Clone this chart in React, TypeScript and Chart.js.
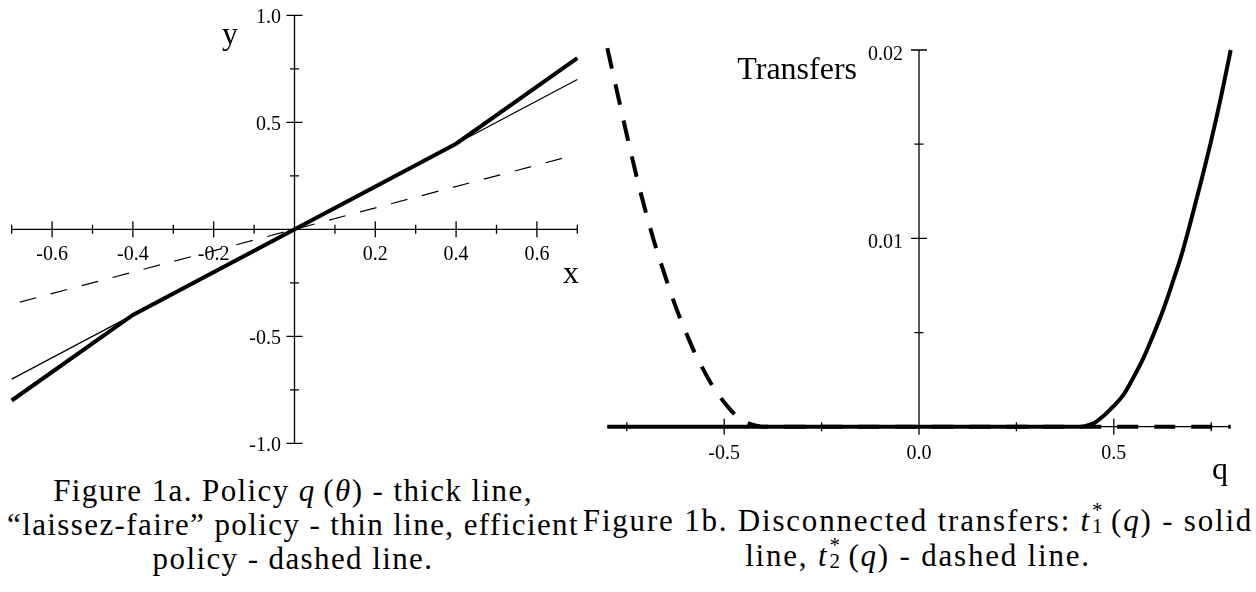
import { useEffect, useRef } from "react"
import { Chart, registerables, type Plugin } from "chart.js"

Chart.register(...registerables)

// Figure 1a - policies
const policyX = [-0.7, -0.4, 0.4, 0.7]
const policyY = [-0.8, -0.4, 0.4, 0.8]
const laissezX = [-0.7, 0.7]
const laissezY = [-0.7, 0.7]
const efficientX = [-0.68, 0.68]
const efficientY = [-0.34, 0.34]

const aMajorX = [-0.6, -0.4, -0.2, 0, 0.2, 0.4, 0.6]
const aMinorX = [-0.7, -0.5, -0.3, -0.1, 0.1, 0.3, 0.5, 0.7]
const aMajorY = [-1, -0.5, 0.5, 1]
const aMinorY = [-0.75, -0.25, 0.25, 0.75]
const aXLabels = ["-0.6", "-0.4", "-0.2", "0.2", "0.4", "0.6"]
const aYLabels = ["1.0", "0.5", "-0.5", "-1.0"]

// Figure 1b - transfers
const t1Q = [-0.8, 0.41, 0.425, 0.45, 0.475, 0.5, 0.525, 0.55, 0.575, 0.6, 0.625, 0.65, 0.675, 0.7, 0.725, 0.75, 0.775, 0.8]
const t1Val = [0, 0, 0.00003, 0.0002, 0.0006, 0.0011, 0.0017, 0.0026, 0.0036, 0.0048, 0.0061, 0.0076, 0.0092, 0.0111, 0.0131, 0.0152, 0.0175, 0.02]
const t2Q = [-0.8, -0.775, -0.75, -0.725, -0.7, -0.675, -0.65, -0.625, -0.6, -0.575, -0.55, -0.525, -0.5, -0.475, -0.45, -0.425, -0.4, 0.8]
const t2Val = [0.0201, 0.0178, 0.0155, 0.0133, 0.0113, 0.0095, 0.0079, 0.0064, 0.0051, 0.0039, 0.0029, 0.002, 0.0013, 0.0007, 0.0003, 0.0001, 0, 0]

const bMajorX = [-0.5, 0, 0.5]
const bMinorX = [-0.75, -0.25, 0.25, 0.75]
const bMajorY = [0.01, 0.02]
const bMinorY = [0.005, 0.015]
const bXLabels = ["-0.5", "0.0", "0.5"]
const bYLabels = ["0.02", "0.01"]

const FONT = "'Liberation Serif', 'Times New Roman', serif"

const pts = (xs: number[], ys: number[]) => xs.map((x, i) => ({ x, y: ys[i] }))

interface AxisSpec {
  majorX: number[]
  minorX: number[]
  majorY: number[]
  minorY: number[]
  xLabels: string[]
  yLabels: string[]
  xLabelDy: number
  yLabelDx: number
  yLabelDy: number
  names: { text: string; x: number; y: number; align: CanvasTextAlign }[]
}

// axes cross at the origin, ticks stick out on both sides
function crossAxes(spec: AxisSpec): Plugin<"scatter"> {
  return {
    id: "crossAxes",
    beforeDatasetsDraw(chart) {
      const { ctx } = chart
      const sx = chart.scales.x
      const sy = chart.scales.y
      const x0 = sx.getPixelForValue(0)
      const y0 = sy.getPixelForValue(0)
      ctx.save()
      ctx.strokeStyle = "#000"
      ctx.lineWidth = 1.3
      ctx.beginPath()
      ctx.moveTo(sx.getPixelForValue(sx.min), y0)
      ctx.lineTo(sx.getPixelForValue(sx.max), y0)
      ctx.moveTo(x0, sy.getPixelForValue(sy.min))
      ctx.lineTo(x0, sy.getPixelForValue(sy.max))
      spec.majorX.forEach((v) => {
        const p = sx.getPixelForValue(v)
        ctx.moveTo(p, y0 - 8)
        ctx.lineTo(p, y0 + 8)
      })
      spec.minorX.forEach((v) => {
        const p = sx.getPixelForValue(v)
        ctx.moveTo(p, y0 - 4.5)
        ctx.lineTo(p, y0 + 4.5)
      })
      spec.majorY.forEach((v) => {
        const p = sy.getPixelForValue(v)
        ctx.moveTo(x0 - 8, p)
        ctx.lineTo(x0 + 8, p)
      })
      spec.minorY.forEach((v) => {
        const p = sy.getPixelForValue(v)
        ctx.moveTo(x0 - 4.5, p)
        ctx.lineTo(x0 + 4.5, p)
      })
      ctx.stroke()

      ctx.fillStyle = "#000"
      ctx.font = `20px ${FONT}`
      ctx.textBaseline = "alphabetic"
      ctx.textAlign = "center"
      spec.xLabels.forEach((t) => {
        ctx.fillText(t, sx.getPixelForValue(parseFloat(t)), y0 + spec.xLabelDy)
      })
      ctx.textAlign = "right"
      spec.yLabels.forEach((t) => {
        ctx.fillText(t, x0 - spec.yLabelDx, sy.getPixelForValue(parseFloat(t)) + spec.yLabelDy)
      })
      ctx.font = `32px ${FONT}`
      spec.names.forEach((n) => {
        ctx.textAlign = n.align
        ctx.fillText(n.text, n.x, n.y)
      })
      ctx.restore()
    },
  }
}

const lineDefaults = {
  showLine: true,
  borderColor: "#000",
  pointRadius: 0,
  tension: 0,
  clip: false as const,
}

function StarSub({ n }: { n: string }) {
  const s = { position: "absolute" as const, left: 1, fontSize: 21, lineHeight: "21px", fontStyle: "normal", letterSpacing: 0 }
  return (
    <span style={{ position: "relative", display: "inline-block", width: 12, height: 0 }}>
      <span style={{ ...s, top: -31 }}>*</span>
      <span style={{ ...s, top: -15.5 }}>{n}</span>
    </span>
  )
}

export default function App() {
  const leftRef = useRef<HTMLCanvasElement>(null)
  const rightRef = useRef<HTMLCanvasElement>(null)

  useEffect(() => {
    if (!leftRef.current || !rightRef.current) return

    const left = new Chart(leftRef.current, {
      type: "scatter",
      data: {
        datasets: [
          { ...lineDefaults, data: pts(policyX, policyY), borderWidth: 4 },
          { ...lineDefaults, data: pts(laissezX, laissezY), borderWidth: 1.3 },
          { ...lineDefaults, data: pts(efficientX, efficientY), borderWidth: 1.2, borderDash: [17, 15] },
        ],
      },
      options: {
        responsive: false,
        animation: false,
        layout: { padding: { left: 11.7, right: 22.7, top: 15.3, bottom: 26.7 } },
        scales: {
          x: { type: "linear", min: -0.7, max: 0.7, display: false },
          y: { type: "linear", min: -1, max: 1, display: false },
        },
        plugins: { legend: { display: false }, tooltip: { enabled: false } },
      },
      plugins: [
        crossAxes({
          majorX: aMajorX,
          minorX: aMinorX,
          majorY: aMajorY,
          minorY: aMinorY,
          xLabels: aXLabels,
          yLabels: aYLabels,
          xLabelDy: 31,
          yLabelDx: 13.5,
          yLabelDy: 8,
          names: [
            { text: "y", x: 230, y: 44, align: "center" },
            { text: "x", x: 571, y: 283, align: "center" },
          ],
        }),
      ],
    })

    const right = new Chart(rightRef.current, {
      type: "scatter",
      data: {
        datasets: [
          { ...lineDefaults, data: pts(t1Q, t1Val), borderWidth: 4, cubicInterpolationMode: "monotone" },
          { ...lineDefaults, data: pts(t2Q, t2Val), borderWidth: 4, borderDash: [21, 16], cubicInterpolationMode: "monotone" },
        ],
      },
      options: {
        responsive: false,
        animation: false,
        layout: { padding: { left: 17.3, right: 25.3, top: 50, bottom: 63.3 } },
        scales: {
          x: { type: "linear", min: -0.8, max: 0.8, display: false },
          y: { type: "linear", min: 0, max: 0.02, display: false },
        },
        plugins: { legend: { display: false }, tooltip: { enabled: false } },
      },
      plugins: [
        crossAxes({
          majorX: bMajorX,
          minorX: bMinorX,
          majorY: bMajorY,
          minorY: bMinorY,
          xLabels: bXLabels,
          yLabels: bYLabels,
          xLabelDy: 32.6,
          yLabelDx: 16,
          yLabelDy: 10,
          names: [
            { text: "Transfers", x: 267, y: 79, align: "right" },
            { text: "q", x: 630, y: 479, align: "center" },
          ],
        }),
      ],
    })

    return () => {
      left.destroy()
      right.destroy()
    }
  }, [])

  const caption = {
    position: "absolute" as const,
    textAlign: "center" as const,
    fontFamily: FONT,
    fontSize: 31,
    whiteSpace: "nowrap" as const,
    color: "#000",
  }

  return (
    <div style={{ position: "absolute", left: 0, top: 0, width: 1256, height: 592, background: "#fff", overflow: "hidden" }}>
      <canvas ref={leftRef} width={600} height={470} style={{ position: "absolute", left: 0, top: 0 }} />
      <canvas ref={rightRef} width={666} height={490} style={{ position: "absolute", left: 590, top: 0 }} />
      <div style={{ ...caption, left: 0, top: 474, width: 586, lineHeight: "34px", letterSpacing: "1.4px" }}>
        <div>
          Figure 1a. Policy <i>q</i>&#8201;(<i>θ</i>) - thick line,
        </div>
        <div>“laissez-faire” policy - thin line, efficient</div>
        <div>policy - dashed line.</div>
      </div>
      <div style={{ ...caption, left: 580, top: 503, width: 676, lineHeight: "35px", letterSpacing: "1.8px" }}>
        <div>
          Figure 1b. Disconnected transfers: <i>t</i>
          <StarSub n="1" />&#8201;(<i>q</i>) - solid
        </div>
        <div>
          line, <i>t</i>
          <StarSub n="2" />&#8201;(<i>q</i>) - dashed line.
        </div>
      </div>
    </div>
  )
}
